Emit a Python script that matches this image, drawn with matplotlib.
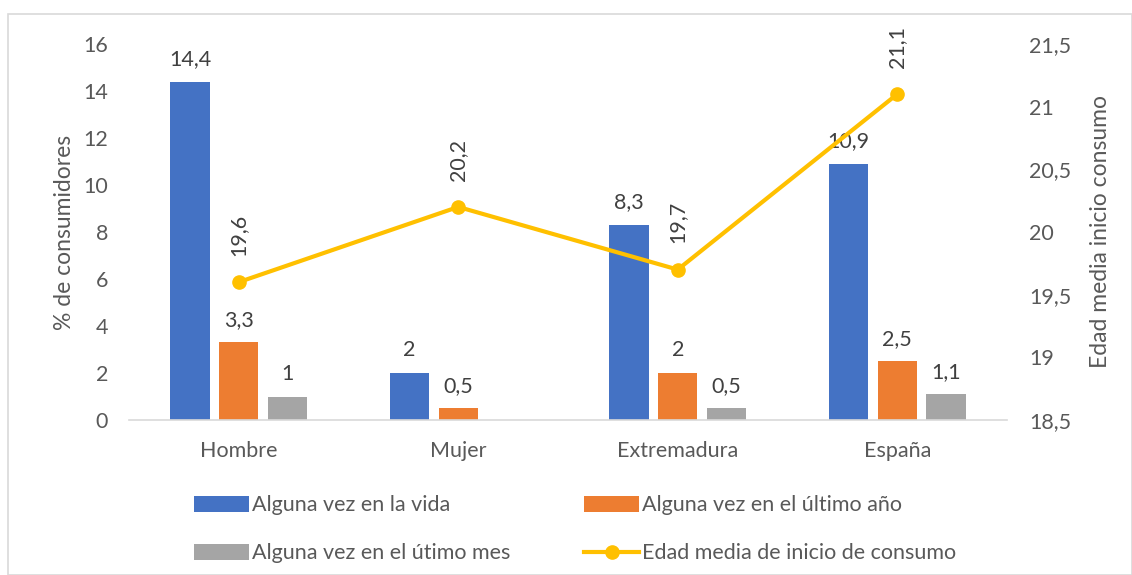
import numpy as np
import matplotlib
matplotlib.use("Agg")
import matplotlib.pyplot as plt
from matplotlib.patches import Rectangle

plt.rcParams["font.family"] = ["Lato", "DejaVu Sans"]

categories = ["Hombre", "Mujer", "Extremadura", "España"]
vida = [14.4, 2, 8.3, 10.9]
ultimo_anio = [3.3, 0.5, 2, 2.5]
ultimo_mes = [1, np.nan, 0.5, 1.1]
edad_media = [19.6, 20.2, 19.7, 21.1]

series_names = ["Alguna vez en la vida", "Alguna vez en el último año",
                "Alguna vez en el útimo mes"]
line_name = "Edad media de inicio de consumo"
colors = ["#4472C4", "#ED7D31", "#A5A5A5"]
gold = "#FFC000"
txt = "#404040"
tick_c = "#595959"
fs = 15.5


def fmt(v):
    s = ("%.1f" % v).rstrip("0").rstrip(".")
    return s.replace(".", ",")


fig = plt.figure(figsize=(11.32, 5.75), dpi=100)
fig.patches.append(Rectangle((8 / 1132, 0), 1 - 8 / 1132, (575 - 14) / 575,
                             transform=fig.transFigure, fill=False,
                             edgecolor="#D9D9D9", linewidth=1.2))

ax = fig.add_axes([129 / 1132, 155 / 575, 878 / 1132, 376 / 575])
ax2 = ax.twinx()

x = np.arange(len(categories))
w = 0.178
step = 0.222
handles = []
for i, (vals, c) in enumerate(zip([vida, ultimo_anio, ultimo_mes], colors)):
    pos = x + (i - 1) * step
    b = ax.bar(pos, vals, width=w, color=c, label=series_names[i])
    handles.append(b)
    for p, v in zip(pos, vals):
        if np.isnan(v):
            continue
        ax.annotate(fmt(v), (p, v), xytext=(0, 9), textcoords="offset points",
                    ha="center", va="bottom", fontsize=fs, color=txt)

ln, = ax2.plot(x, edad_media, color=gold, lw=3, marker="o", markersize=9.5,
               label=line_name)
for xi, v in zip(x, edad_media):
    ax2.annotate(fmt(v), (xi, v), xytext=(0, 19), textcoords="offset points",
                 ha="center", va="bottom", rotation=90, fontsize=fs, color=txt)

ax.set_xlim(-0.5, 3.5)
ax.set_ylim(0, 16)
ax.set_yticks(range(0, 17, 2))
ax2.set_ylim(18.5, 21.5)
ax2.set_yticks(np.arange(18.5, 21.51, 0.5))
ax2.set_yticklabels([fmt(v) for v in np.arange(18.5, 21.51, 0.5)])
ax.set_xticks(x)
ax.set_xticklabels(categories)

for a in (ax, ax2):
    for s in ("top", "left", "right", "bottom"):
        a.spines[s].set_visible(False)
    a.tick_params(length=0, labelsize=fs, labelcolor=tick_c)
ax.spines["bottom"].set_visible(True)
ax.spines["bottom"].set_color("#D9D9D9")
ax.spines["bottom"].set_linewidth(1.2)
ax.tick_params(axis="y", pad=15)
ax.tick_params(axis="x", pad=15)
ax2.tick_params(axis="y", pad=16)

ax.set_ylabel("% de consumidores", fontsize=fs + 1, color=tick_c, labelpad=6)
ax2.set_ylabel("Edad media inicio consumo", fontsize=fs + 1, color=tick_c,
               labelpad=13)

# row-major order in a 2-column legend
leg_handles = [handles[0], handles[2], handles[1], ln]
leg_labels = [series_names[0], series_names[2], series_names[1], line_name]
fig.legend(leg_handles, leg_labels, ncol=2,
           loc="upper left", bbox_to_anchor=(175 / 1132, 99 / 575),
           frameon=False, fontsize=fs, labelcolor=tick_c,
           handlelength=2.55, handleheight=0.75, handletextpad=0.15,
           columnspacing=3.4, labelspacing=1.3)

fig.savefig("out.png", dpi=100)
